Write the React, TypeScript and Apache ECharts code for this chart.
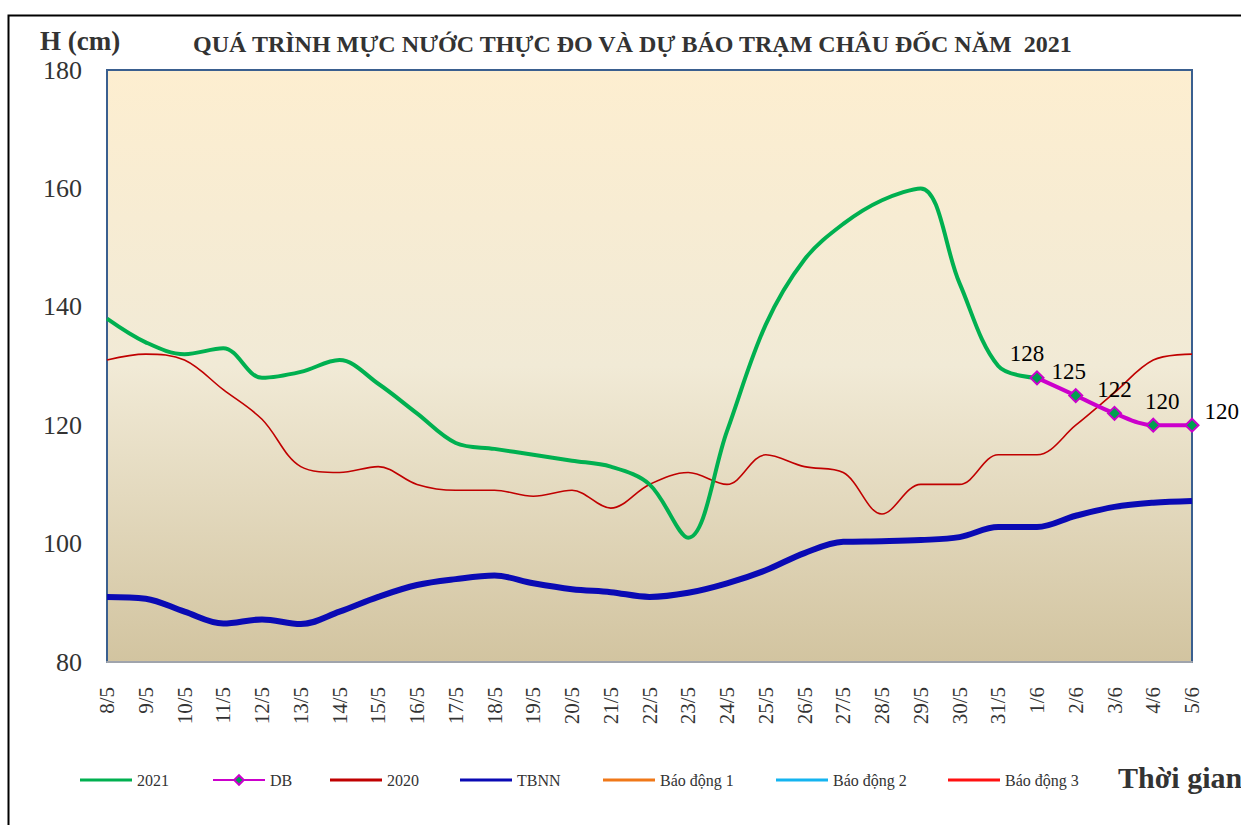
import React, { useEffect, useRef } from "react";
import * as echarts from "echarts";

const categories = ["8/5","9/5","10/5","11/5","12/5","13/5","14/5","15/5","16/5","17/5","18/5","19/5","20/5","21/5","22/5","23/5","24/5","25/5","26/5","27/5","28/5","29/5","30/5","31/5","1/6","2/6","3/6","4/6","5/6"];

const obs2021 = [138,134,132,133,128,129,131,127,122,117,116,115,114,113,110,101,119,137,148,154,158,160,144,130,128,null,null,null,null];
const forecastDB = [null,null,null,null,null,null,null,null,null,null,null,null,null,null,null,null,null,null,null,null,null,null,null,null,128,125,122,120,120];
const year2020 = [131,132,131,126,121,113,112,113,110,109,109,108,109,106,110,112,110,115,113,112,105,110,110,115,115,120,125.5,131,132];
const tbnn = [91,90.7,88.5,86.5,87.2,86.4,88.5,91,93,94,94.6,93.3,92.3,91.8,91,91.7,93.3,95.5,98.4,100.3,100.4,100.6,101.1,102.8,102.8,104.7,106.2,106.9,107.2];
const alarm1: (number | null)[] = [];
const alarm2: (number | null)[] = [];
const alarm3: (number | null)[] = [];

const yTicks = { min: 80, max: 180, interval: 20 };

// horizontal nudges of the DB value labels (presentation only)
const dbLabelDx = [-10, -7, 0, 9];

const FONT = "'Liberation Serif', 'Times New Roman', serif";

export default function App() {
  const ref = useRef<HTMLDivElement>(null);
  useEffect(() => {
    document.body.style.margin = "0";
    const chart = echarts.init(ref.current!, undefined, { renderer: "svg" });
    const firstDB = forecastDB.findIndex((v) => v !== null);
    const dbData = forecastDB.map((v, i) => {
      if (v === null) return null;
      const k = i - firstDB;
      if (i === forecastDB.length - 1) {
        return { value: v, label: { position: "right", offset: [0, -14] } };
      }
      return { value: v, label: { offset: [dbLabelDx[k] ?? 0, 0] } };
    });
    const legendItem = (name: string, left: number, lineOnly: boolean) => ({
      data: lineOnly ? [{ name, icon: "rect" }] : [name],
      left: left - 5,
      top: 767,
      itemWidth: 52,
      itemHeight: lineOnly ? 3 : 12,
      textStyle: { fontFamily: FONT, fontSize: 16, color: "#333" },
      selectedMode: false,
    });
    chart.setOption({
      animation: false,
      backgroundColor: "#ffffff",
      grid: {
        left: 107,
        right: 49,
        top: 70,
        bottom: 163,
        show: true,
        borderColor: "#3a5f8f",
        borderWidth: 2,
        backgroundColor: {
          type: "linear",
          x: 0, y: 0, x2: 0, y2: 1,
          colorStops: [
            { offset: 0, color: "#fdeed0" },
            { offset: 0.5, color: "#f1ead6" },
            { offset: 1, color: "#d2c4a0" },
          ],
        },
      },
      legend: [
        legendItem("2021", 80, true),
        legendItem("DB", 212, false),
        legendItem("2020", 330, true),
        legendItem("TBNN", 460, true),
        legendItem("Báo động 1", 603, true),
        legendItem("Báo động 2", 776, true),
        legendItem("Báo động 3", 948, true),
      ],
      xAxis: {
        type: "category",
        data: categories,
        boundaryGap: false,
        axisLine: { show: true, lineStyle: { color: "#a0a4ac", width: 2 } },
        axisTick: { show: false },
        axisLabel: {
          rotate: 90,
          interval: 0,
          margin: 25,
          fontFamily: FONT,
          fontSize: 21,
          color: "#333",
        },
        splitLine: { show: false },
      },
      yAxis: {
        type: "value",
        min: yTicks.min,
        max: yTicks.max,
        interval: yTicks.interval,
        axisLine: { show: false },
        axisTick: { show: false },
        splitLine: { show: false },
        axisLabel: {
          margin: 25,
          fontFamily: FONT,
          fontSize: 26,
          color: "#333",
        },
      },
      series: [
        {
          name: "2021",
          type: "line",
          data: obs2021,
          smooth: 0.35,
          symbol: "none",
          lineStyle: { color: "#00b050", width: 4 },
          itemStyle: { color: "#00b050" },
          z: 4,
        },
        {
          name: "DB",
          type: "line",
          data: dbData,
          smooth: 0.35,
          symbol: "diamond",
          symbolSize: 13,
          lineStyle: { color: "#cc00cc", width: 4 },
          itemStyle: { color: "#00a050", borderColor: "#cc00cc", borderWidth: 2 },
          label: {
            show: true,
            position: "top",
            fontFamily: FONT,
            fontSize: 23,
            color: "#000",
          },
          z: 5,
        },
        {
          name: "2020",
          type: "line",
          data: year2020,
          smooth: 0.35,
          symbol: "none",
          lineStyle: { color: "#c00000", width: 1.6 },
          itemStyle: { color: "#c00000" },
          z: 3,
        },
        {
          name: "TBNN",
          type: "line",
          data: tbnn,
          smooth: 0.35,
          symbol: "none",
          lineStyle: { color: "#0a0ab4", width: 6 },
          itemStyle: { color: "#0a0ab4" },
          z: 3,
        },
        {
          name: "Báo động 1",
          type: "line",
          data: alarm1,
          symbol: "none",
          lineStyle: { color: "#f07818", width: 2 },
          itemStyle: { color: "#f07818" },
        },
        {
          name: "Báo động 2",
          type: "line",
          data: alarm2,
          symbol: "none",
          lineStyle: { color: "#14b4f0", width: 2 },
          itemStyle: { color: "#14b4f0" },
        },
        {
          name: "Báo động 3",
          type: "line",
          data: alarm3,
          symbol: "none",
          lineStyle: { color: "#ff1010", width: 2 },
          itemStyle: { color: "#ff1010" },
        },
      ],
      graphic: [
        {
          type: "rect",
          left: 6,
          top: 13,
          shape: { width: 1260, height: 840 },
          style: { fill: "none", stroke: "#000", lineWidth: 2 },
          silent: true,
        },
        {
          type: "text",
          left: 40,
          top: 27,
          style: { text: "H (cm)", font: `bold 27px ${FONT}`, fill: "#333" },
        },
        {
          type: "text",
          left: 193,
          top: 32,
          style: {
            text: "QUÁ TRÌNH MỰC NƯỚC THỰC ĐO VÀ DỰ BÁO TRẠM CHÂU ĐỐC NĂM  2021",
            font: `bold 24px ${FONT}`,
            fill: "#333",
          },
        },
        {
          type: "text",
          left: 1118,
          top: 762,
          style: { text: "Thời gian", font: `bold 30px ${FONT}`, fill: "#333" },
        },
      ],
    });
    return () => chart.dispose();
  }, []);
  return <div ref={ref} style={{ position: "fixed", left: 0, top: 0, width: 1241, height: 825 }} />;
}
